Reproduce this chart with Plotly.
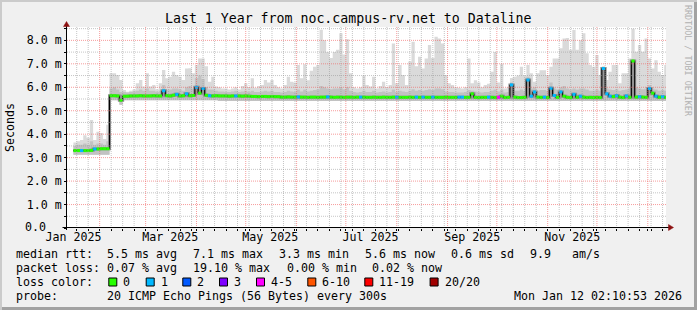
import plotly.graph_objects as go
import pandas as pd

# ---------------- data ----------------
# one sample every 2 days starting 2025-01-16, values in milliseconds
median = [
    3.30, 3.30, 3.30, 3.30, 3.30, 3.31, 3.37, 3.37, 3.38, 3.38,
    3.38, 5.64, 5.64, 5.63, 5.45, 5.62, 5.62, 5.63, 5.63, 5.63,
    5.64, 5.63, 5.63, 5.63, 5.64, 5.63, 5.63, 5.85, 5.64, 5.63,
    5.66, 5.70, 5.63, 5.64, 5.72, 5.64, 5.65, 6.00, 5.75, 5.95,
    5.66, 5.64, 5.63, 5.64, 5.63, 5.63, 5.63, 5.62, 5.63, 5.63,
    5.63, 5.62, 5.63, 5.62, 5.61, 5.61, 5.60, 5.61, 5.61, 5.60,
    5.61, 5.60, 5.60, 5.58, 5.58, 5.59, 5.58, 5.58, 5.59, 5.58,
    5.58, 5.57, 5.58, 5.58, 5.57, 5.58, 5.58, 5.59, 5.58, 5.57,
    5.58, 5.58, 5.57, 5.58, 5.58, 5.57, 5.58, 5.58, 5.58, 5.57,
    5.57, 5.58, 5.57, 5.57, 5.58, 5.57, 5.57, 5.58, 5.58, 5.57,
    5.57, 5.57, 5.58, 5.57, 5.58, 5.57, 5.58, 5.57, 5.57, 5.58,
    5.57, 5.57, 5.57, 5.58, 5.57, 5.57, 5.57, 5.58, 5.58, 5.57,
    5.57, 5.72, 5.57, 5.56, 5.57, 5.57, 5.58, 5.57, 5.56, 5.57,
    5.62, 5.56, 5.57, 6.10, 5.58, 5.56, 5.56, 5.57, 6.31, 5.62,
    5.80, 5.58, 5.57, 5.58, 5.56, 5.96, 5.65, 5.57, 5.80, 5.62,
    5.57, 5.56, 5.70, 5.57, 5.62, 5.58, 5.56, 5.57, 5.56, 5.57,
    5.56, 6.80, 5.72, 5.62, 5.60, 5.64, 5.58, 5.56, 5.63, 5.57,
    7.12, 5.58, 5.60, 5.58, 5.57, 5.95, 5.75, 5.62, 5.57, 5.60,
    5.56, 5.56,
]
# loss level index per sample (0 = 0 lost, 1 = 1 lost, 4 = 4-5 lost ...)
loss = [
    0, 0, 1, 0, 0, 0, 1, 0, 0, 0,
    0, 0, 0, 0, 0, 0, 0, 0, 0, 0,
    0, 0, 0, 0, 0, 0, 0, 1, 0, 0,
    0, 1, 0, 0, 1, 0, 0, 1, 0, 1,
    0, 1, 0, 0, 0, 0, 0, 0, 0, 1,
    0, 0, 0, 0, 0, 0, 0, 0, 0, 0,
    0, 0, 0, 0, 0, 0, 0, 0, 1, 0,
    0, 0, 0, 0, 0, 0, 0, 1, 0, 0,
    0, 0, 0, 0, 0, 0, 0, 1, 0, 0,
    0, 0, 0, 0, 0, 0, 0, 0, 1, 0,
    0, 0, 0, 0, 1, 0, 1, 0, 0, 1,
    0, 0, 0, 0, 0, 0, 0, 1, 1, 0,
    0, 0, 0, 0, 0, 0, 1, 0, 0, 4,
    0, 0, 0, 1, 0, 0, 0, 0, 1, 1,
    1, 0, 0, 1, 0, 1, 1, 0, 1, 0,
    0, 0, 1, 0, 1, 0, 0, 0, 0, 0,
    0, 1, 1, 1, 0, 1, 0, 0, 1, 0,
    0, 0, 1, 0, 0, 1, 0, 1, 0, 1,
    0, 0,
]
# top of the smoke (slowest ping)
smoke_hi = [
    3.65, 3.70, 3.75, 3.95, 3.85, 4.60, 3.75, 4.10, 4.05, 3.80,
    4.40, 6.60, 6.60, 6.52, 6.31, 5.88, 5.81, 5.85, 5.90, 6.17,
    6.31, 6.03, 6.60, 6.03, 6.10, 5.90, 6.17, 6.74, 6.38, 6.45,
    6.66, 6.52, 6.45, 6.31, 6.80, 6.81, 6.60, 6.95, 7.23, 7.23,
    6.90, 6.24, 6.45, 6.03, 6.00, 5.95, 5.95, 5.90, 5.95, 6.00,
    5.90, 6.05, 6.17, 6.00, 6.38, 5.98, 6.05, 6.10, 6.31, 6.20,
    6.31, 6.10, 6.00, 5.95, 6.10, 6.45, 6.24, 6.20, 6.95, 6.38,
    6.98, 6.30, 6.70, 6.88, 6.95, 8.45, 8.00, 7.50, 7.25, 7.50,
    7.60, 8.30, 7.40, 8.05, 6.60, 6.00, 5.95, 6.00, 6.50, 6.10,
    6.03, 6.45, 5.95, 6.05, 6.24, 6.00, 6.10, 7.87, 6.17, 6.95,
    6.52, 6.10, 7.10, 7.94, 6.90, 7.30, 6.80, 7.23, 7.80, 7.25,
    8.15, 8.08, 7.87, 6.52, 6.17, 6.10, 6.00, 5.98, 5.95, 6.00,
    7.23, 6.17, 6.30, 6.20, 6.00, 6.10, 6.15, 6.66, 7.50, 6.20,
    7.00, 5.95, 6.00, 6.40, 6.45, 6.50, 6.88, 6.50, 6.95, 6.60,
    6.24, 6.60, 6.73, 6.73, 6.52, 6.88, 7.23, 7.23, 7.66, 8.08,
    8.10, 7.60, 8.44, 7.60, 8.00, 8.30, 7.45, 6.95, 6.88, 7.38,
    6.52, 6.90, 6.31, 6.66, 6.95, 6.95, 6.17, 6.60, 6.60, 7.23,
    8.50, 7.52, 7.80, 7.52, 8.08, 7.23, 6.80, 7.15, 6.66, 6.52,
    6.95, 6.95,
]
# top of the denser inner smoke band
smoke_mid = [
    3.50, 3.55, 3.55, 3.60, 3.55, 3.70, 3.55, 3.60, 3.60, 3.55,
    3.70, 5.95, 6.00, 5.90, 5.80, 5.80, 5.78, 5.80, 5.82, 5.85,
    5.90, 5.85, 5.95, 5.85, 5.85, 5.80, 5.85, 6.10, 5.90, 5.90,
    5.95, 5.95, 5.90, 5.85, 6.00, 6.05, 5.95, 6.40, 6.50, 6.35,
    6.00, 5.90, 5.90, 5.85, 5.82, 5.82, 5.80, 5.80, 5.82, 5.85,
    5.80, 5.82, 5.85, 5.80, 5.85, 5.80, 5.80, 5.82, 5.85, 5.82,
    5.85, 5.80, 5.80, 5.78, 5.80, 5.85, 5.82, 5.80, 5.90, 5.82,
    5.90, 5.82, 5.85, 5.88, 5.90, 6.05, 6.00, 5.95, 5.92, 5.95,
    5.95, 6.00, 5.92, 6.00, 5.85, 5.80, 5.78, 5.80, 5.85, 5.80,
    5.80, 5.85, 5.78, 5.80, 5.82, 5.78, 5.80, 5.90, 5.80, 5.85,
    5.82, 5.80, 5.85, 5.92, 5.85, 5.88, 5.85, 5.88, 5.92, 5.88,
    5.95, 5.95, 5.92, 5.82, 5.80, 5.80, 5.78, 5.78, 5.78, 5.80,
    5.88, 5.85, 5.82, 5.80, 5.78, 5.80, 5.80, 5.85, 5.90, 5.82,
    5.88, 5.78, 5.80, 6.20, 5.85, 5.85, 5.90, 5.85, 6.45, 5.95,
    6.00, 5.85, 5.88, 5.88, 5.85, 6.20, 5.95, 5.90, 6.00, 6.05,
    5.95, 5.90, 5.95, 5.90, 5.95, 5.95, 5.90, 5.85, 5.85, 5.90,
    5.85, 6.85, 5.95, 5.90, 5.88, 5.92, 5.85, 5.88, 5.90, 5.95,
    7.15, 6.00, 5.95, 5.92, 5.95, 6.10, 5.95, 5.90, 5.85, 5.88,
    5.85, 5.85,
]
# bottom of the smoke (fastest ping), step changes only
smoke_lo_dates = ["2025-01-16", "2025-02-07", "2025-02-13", "2025-02-15", "2025-04-14", "2026-01-13"]
smoke_lo = [3.12, 5.45, 5.25, 5.45, 5.42, 5.42]

loss_labels = ["0", "1", "2", "3", "4-5", "6-10", "11-19", "20/20"]
loss_colors = ["#26ff00", "#00b8ff", "#0059ff", "#7e00ff", "#ff00ff", "#ff5500", "#ff0000", "#a10000"]

y_tickvals = [0, 1, 2, 3, 4, 5, 6, 7, 8]
y_ticktext = ["", "1.0 m", "2.0 m", "3.0 m", "4.0 m", "5.0 m", "6.0 m", "7.0 m", "8.0 m"]
y_zero_label = "0.0"
x_label_dates = ["2025-01-16", "2025-03-16", "2025-05-16", "2025-07-16", "2025-09-16", "2025-11-16"]
x_label_text = ["Jan 2025", "Mar 2025", "May 2025", "Jul 2025", "Sep 2025", "Nov 2025"]

title_text = "Last 1 Year from noc.campus-rv.net to Dataline"
rtt_items = ["median rtt:", "5.5 ms avg", "7.1 ms max", "3.3 ms min", "5.6 ms now", "0.6 ms sd", "9.9", "am/s"]
loss_items = ["packet loss:", "0.07 % avg", "19.10 % max", "0.00 % min", "0.02 % now"]
probe_items = ["probe:", "20 ICMP Echo Pings (56 Bytes) every 300s"]
stamp_text = "Mon Jan 12 02:10:53 2026"

# ---------------- layout helpers ----------------
FONT = "DejaVu Sans Mono"
FS = 11.63
IMG_W, IMG_H = 697, 310
L, R, T, B = 67, 666, 27, 228          # plot area in pixels
X_START = pd.Timestamp("2025-01-12 02:10:53")
X_END = pd.Timestamp("2026-01-12 02:10:53")
Y_MAX = 8.57


def px(x):
    return (x - L) / (R - L)


def py(y):
    return (B - y) / (B - T)


dates = pd.date_range("2025-01-16", periods=len(median), freq="2D")

fig = go.Figure()

# smoke: light outer band
fig.add_trace(go.Scatter(x=smoke_lo_dates, y=smoke_lo, mode="lines",
                         line=dict(width=0, shape="hv"), hoverinfo="skip"))
fig.add_trace(go.Scatter(x=dates, y=smoke_hi, mode="lines", fill="tonexty",
                         fillcolor="#dadada", line=dict(width=0, shape="hv"), hoverinfo="skip"))
# smoke: denser inner band
fig.add_trace(go.Scatter(x=smoke_lo_dates, y=smoke_lo, mode="lines",
                         line=dict(width=0, shape="hv"), hoverinfo="skip"))
fig.add_trace(go.Scatter(x=dates, y=smoke_mid, mode="lines", fill="tonexty",
                         fillcolor="#c2c2c2", line=dict(width=0, shape="hv"), hoverinfo="skip"))
# darkest smoke around the median
fig.add_trace(go.Scatter(x=dates, y=median, mode="lines",
                         line=dict(color="#8a8a8a", width=3, shape="hv"), hoverinfo="skip"))
# median line
fig.add_trace(go.Scatter(x=dates, y=median, mode="lines",
                         line=dict(color="#000000", width=1, shape="hv"), hoverinfo="skip"))
# median coloured by loss
for lvl, col in enumerate(loss_colors):
    xs, ys = [], []
    for i in range(len(median) - 1):
        if loss[i] == lvl:
            xs += [dates[i], dates[i + 1], None]
            ys += [median[i], median[i], None]
    if xs:
        fig.add_trace(go.Scatter(x=xs, y=ys, mode="lines",
                                 line=dict(color=col, width=3), hoverinfo="skip"))

# invisible trace so the label axis is drawn
fig.add_trace(go.Scatter(x=x_label_dates, y=[0] * len(x_label_dates), xaxis="x2",
                         mode="markers", marker=dict(opacity=0), hoverinfo="skip"))

month_starts = pd.date_range("2025-02-01", "2026-01-01", freq="MS")
weeks = [d for d in pd.date_range("2025-01-18", "2026-01-10", freq="7D") if d not in set(month_starts)]
tick_dates = sorted(list(month_starts) + weeks)

shapes = []
GRID_MINOR = "rgba(150,150,150,0.55)"
GRID_MAJOR = "rgba(240,90,90,0.60)"
for d in weeks:
    shapes.append(dict(type="line", xref="x", yref="paper", x0=d, x1=d, y0=0, y1=1,
                       line=dict(color=GRID_MINOR, width=1, dash="1px,1px"), layer="above"))
for v in [0.5 + k for k in range(9)]:
    shapes.append(dict(type="line", xref="paper", yref="y", x0=0, x1=1, y0=v, y1=v,
                       line=dict(color=GRID_MINOR, width=1, dash="1px,1px"), layer="above"))
for d in month_starts:
    shapes.append(dict(type="line", xref="x", yref="paper", x0=d, x1=d, y0=0, y1=1,
                       line=dict(color=GRID_MAJOR, width=1, dash="1px,1px"), layer="above"))
for v in y_tickvals[1:]:
    shapes.append(dict(type="line", xref="paper", yref="y", x0=0, x1=1, y0=v, y1=v,
                       line=dict(color=GRID_MAJOR, width=1, dash="1px,1px"), layer="above"))

# axis lines
shapes.append(dict(type="line", xref="paper", yref="paper", x0=px(62.5), x1=px(669), y0=py(227.5), y1=py(227.5),
                   line=dict(color="black", width=1), layer="above"))
shapes.append(dict(type="line", xref="paper", yref="paper", x0=px(66.5), x1=px(66.5), y0=py(230), y1=py(25),
                   line=dict(color="black", width=1), layer="above"))
# arrows
ARROW = "#8c1010"
shapes.append(dict(type="path", xref="paper", yref="paper",
                   path=f"M {px(66.5)},{py(21.5)} L {px(63.5)},{py(26.5)} L {px(69.5)},{py(26.5)} Z",
                   fillcolor=ARROW, line=dict(color=ARROW, width=0.5), layer="above"))
shapes.append(dict(type="path", xref="paper", yref="paper",
                   path=f"M {px(673.5)},{py(227.5)} L {px(668.5)},{py(224.5)} L {px(668.5)},{py(230.5)} Z",
                   fillcolor=ARROW, line=dict(color=ARROW, width=0.5), layer="above"))

# 3-D border of the image
shapes.append(dict(type="rect", xref="paper", yref="paper", x0=px(0), x1=px(IMG_W), y0=py(0), y1=py(2),
                   fillcolor="#cbcbcb", line=dict(width=0), layer="above"))
shapes.append(dict(type="rect", xref="paper", yref="paper", x0=px(0), x1=px(2), y0=py(0), y1=py(IMG_H),
                   fillcolor="#cbcbcb", line=dict(width=0), layer="above"))
shapes.append(dict(type="rect", xref="paper", yref="paper", x0=px(2), x1=px(IMG_W), y0=py(IMG_H - 3), y1=py(IMG_H),
                   fillcolor="#a2a2a2", line=dict(width=0), layer="above"))
shapes.append(dict(type="rect", xref="paper", yref="paper", x0=px(IMG_W - 3), x1=px(IMG_W), y0=py(2), y1=py(IMG_H),
                   fillcolor="#a2a2a2", line=dict(width=0), layer="above"))

annotations = []


def text(s, x, y, anchor="left", size=FS, color="black", angle=0):
    annotations.append(dict(text=s, x=px(x), y=py(y), xref="paper", yref="paper",
                            xanchor=anchor, yanchor="middle", showarrow=False,
                            borderpad=0, borderwidth=0, textangle=angle,
                            font=dict(family=FONT, size=size, color=color)))


text(title_text, 348, 19, anchor="center", size=13.24)
text("Seconds", 10, 128, anchor="center", angle=-90)
text("RRDTOOL / TOBI OETIKER", 688, 61, anchor="center", size=8.4, color="#b0b0b0", angle=90)
# the zero label is left-aligned with the other y labels (it has no unit)
text(y_zero_label, 25, 227, anchor="left")

ROWS = [254, 268, 282, 296]
for s, x in zip(rtt_items, [16, 106.5, 192.5, 278.5, 365, 451, 530, 572]):
    text(s, x, ROWS[0])
for s, x in zip(loss_items, [16, 106.5, 192.5, 286.5, 371.5]):
    text(s, x, ROWS[1])
text("loss color:", 16, ROWS[2])
box_x = [108.3, 145.7, 182.3, 219, 256, 307.3, 364.3, 429.6]
for lab, col, bx in zip(loss_labels, loss_colors, box_x):
    shapes.append(dict(type="rect", xref="paper", yref="paper",
                       x0=px(bx + 0.5), x1=px(bx + 8.5), y0=py(ROWS[2] - 4), y1=py(ROWS[2] + 4),
                       fillcolor=col, line=dict(color="black", width=1), layer="above"))
    text(lab, bx + 15, ROWS[2])
text(probe_items[0], 16, ROWS[3])
text(probe_items[1], 106.5, ROWS[3])
text(stamp_text, 682, ROWS[3], anchor="right")

tickfont = dict(family=FONT, size=FS, color="black")
fig.update_layout(
    width=IMG_W, height=IMG_H,
    margin=dict(l=L, r=IMG_W - R, t=T, b=IMG_H - B, pad=0),
    paper_bgcolor="#f0f0f0", plot_bgcolor="#ffffff",
    showlegend=False,
    xaxis=dict(type="date", range=[X_START, X_END], tickmode="array", tickvals=tick_dates,
               ticks="outside", ticklen=2, tickcolor="black", showticklabels=False,
               showgrid=False, zeroline=False, showline=False, fixedrange=True),
    xaxis2=dict(type="date", range=[X_START, X_END], overlaying="x", anchor="y", side="bottom",
                tickmode="array", tickvals=x_label_dates, ticktext=x_label_text, ticks="",
                showgrid=False, zeroline=False, showline=False, tickfont=tickfont, fixedrange=True),
    yaxis=dict(range=[0, Y_MAX], tickmode="array", tickvals=y_tickvals, ticktext=y_ticktext,
               ticks="outside", ticklen=2, tickcolor="black", showgrid=False, zeroline=False,
               showline=False, tickfont=tickfont, fixedrange=True,
               minor=dict(tick0=0, dtick=0.5, ticks="outside", ticklen=2, tickcolor="black", showgrid=False)),
    shapes=shapes,
    annotations=annotations,
)

fig.write_html("out.html")
